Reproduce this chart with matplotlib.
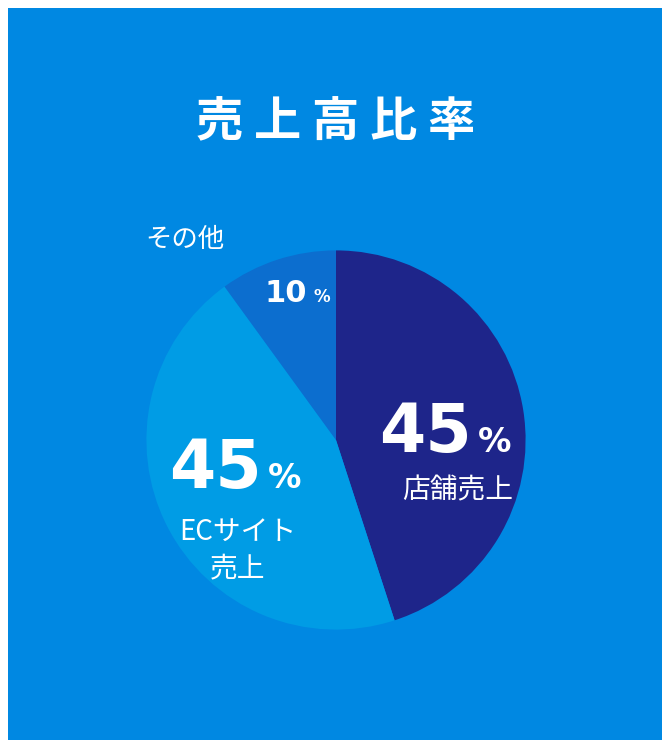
import matplotlib
matplotlib.use("Agg")
import matplotlib.pyplot as plt

labels = ["店舗売上", "ECサイト\n売上", "その他"]
values = [45, 45, 10]
colors = ["#1E258A", "#009CE5", "#0C6ECF"]
title = "売上高比率"

plt.rcParams['font.family'] = ['Noto Sans CJK JP', 'DejaVu Sans']
W, H = 670, 748
fig = plt.figure(figsize=(W/100, H/100), dpi=100)
fig.patch.set_facecolor("white")

def fx(x): return x / W
def fy(y): return 1 - y / H

bg = fig.add_axes([fx(8), fy(740), 654/W, 732/H], zorder=0)
bg.set_facecolor("#0088E2")
bg.set_xticks([]); bg.set_yticks([])
for s in bg.spines.values():
    s.set_visible(False)

cx, cy, r = 336, 440, 237
ax = fig.add_axes([fx(cx - r), fy(cy + r), 2 * r / W, 2 * r / H], zorder=1)
ax.pie(values, colors=colors, startangle=90, counterclock=False,
       wedgeprops=dict(linewidth=0))
ax.set_aspect("auto")
ax.axis("off")

fig.text(fx(336), fy(122), " ".join(title), color="white", fontsize=34, fontweight="bold",
         ha="center", va="center", zorder=5)

numfont = dict(family="DejaVu Sans", fontweight="bold", color="white", zorder=5)
def pct(x, y, v, big, small):
    fig.text(fx(x), fy(y), str(v), fontsize=big, ha="right", va="baseline", **numfont)
    fig.text(fx(x + 6), fy(y), "%", fontsize=small, ha="left", va="baseline", **numfont)

pct(472, 452, values[0], 48, 24)
pct(262, 488, values[1], 48, 24)
pct(307, 302, values[2], 22, 12)

fig.text(fx(458), fy(490), labels[0], color="white", fontsize=20, ha="center", va="center", zorder=5)
fig.text(fx(238), fy(550), labels[1], color="white", fontsize=20, ha="center", va="center",
         linespacing=1.3, zorder=5)
fig.text(fx(185), fy(240), labels[2], color="white", fontsize=19, ha="center", va="center", zorder=5)

fig.savefig("out.png", dpi=100)
